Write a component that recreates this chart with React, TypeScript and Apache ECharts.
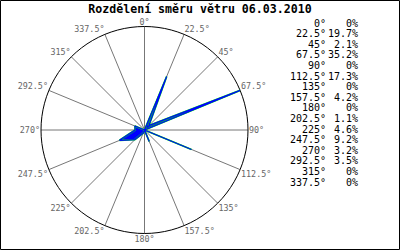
import React, { useEffect, useRef } from "react";
import * as echarts from "echarts";

const title = "Rozdělení směru větru 06.03.2010";
const directions = [0, 22.5, 45, 67.5, 90, 112.5, 135, 157.5, 180, 202.5, 225, 247.5, 270, 292.5, 315, 337.5];
const percents = [0, 19.7, 2.1, 35.2, 0, 17.3, 0, 4.2, 0, 1.1, 4.6, 9.2, 3.2, 3.5, 0, 0];

const degLabel = (d: number) => `${d}°`;
const pctLabel = (p: number) => (p === 0 ? "0%" : `${p.toFixed(1)}%`);

const FONT = "'DejaVu Sans Mono', 'Liberation Mono', monospace";

export default function App() {
  const ref = useRef<HTMLDivElement>(null);
  useEffect(() => {
    if (!ref.current) return;
    const chart = echarts.init(ref.current, undefined, { renderer: "svg" });
    const data: [number, number][] = directions.map((d, i) => [percents[i], d]);
    data.push([percents[0], 360]);
    const maxP = Math.max(...percents);

    const tableTexts: any[] = [];
    directions.forEach((d, i) => {
      const y = 23 + i * 10.6;
      tableTexts.push({
        type: "text",
        x: 326,
        y,
        style: { text: degLabel(d), font: `10px ${FONT}`, fill: "#000", align: "right", verticalAlign: "middle" },
      });
      tableTexts.push({
        type: "text",
        x: 358,
        y,
        style: { text: pctLabel(percents[i]), font: `10px ${FONT}`, fill: "#000", align: "right", verticalAlign: "middle" },
      });
    });

    chart.setOption({
      animation: false,
      backgroundColor: "#fff",
      title: {
        text: title,
        left: 200,
        textAlign: "center",
        top: 2,
        padding: 0,
        textStyle: { fontFamily: FONT, fontSize: 11.6, fontWeight: "bold", color: "#000", lineHeight: 14 },
      },
      polar: { center: [144.5, 130], radius: 103.5 },
      angleAxis: {
        type: "value",
        min: 0,
        max: 360,
        interval: 22.5,
        startAngle: 90,
        clockwise: true,
        axisLine: { show: true, lineStyle: { color: "#000", width: 1 } },
        axisTick: { show: false },
        splitLine: { show: true, lineStyle: { color: "#777", width: 1 } },
        axisLabel: {
          margin: 1,
          color: "#666",
          fontFamily: FONT,
          fontSize: 8.4,
          formatter: (v: number) => (v >= 360 ? "" : degLabel(v)),
        },
      },
      radiusAxis: {
        type: "value",
        min: 0,
        max: maxP,
        axisLine: { show: false },
        axisTick: { show: false },
        axisLabel: { show: false },
        splitLine: { show: false },
      },
      series: [
        {
          type: "line",
          coordinateSystem: "polar",
          data,
          symbol: "none",
          lineStyle: { color: "#00ff00", width: 1.8 },
        },
        {
          type: "line",
          coordinateSystem: "polar",
          data,
          symbol: "none",
          lineStyle: { color: "#0000ff", width: 1.2 },
          areaStyle: { color: "#0000ff", opacity: 1 },
        },
      ],
      graphic: [
        {
          type: "rect",
          shape: { x: 0.5, y: 0.5, width: 399, height: 249 },
          style: { fill: "none", stroke: "#000", lineWidth: 1 },
          z: 100,
        },
        ...tableTexts,
      ],
    });
    return () => chart.dispose();
  }, []);
  return <div ref={ref} style={{ position: "fixed", left: 0, top: 0, width: 400, height: 250 }} />;
}
